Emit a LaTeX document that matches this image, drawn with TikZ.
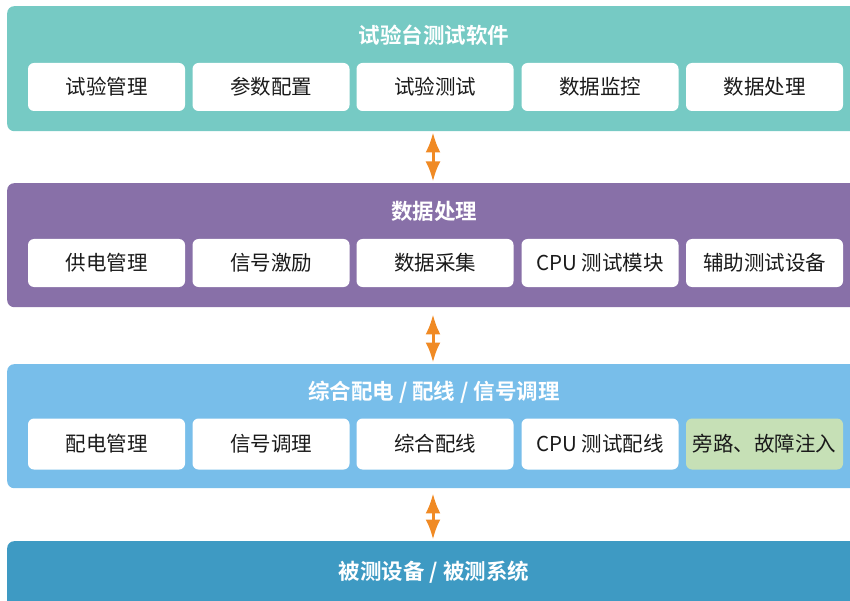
\documentclass[tikz,border=0pt]{standalone}
\usepackage{fontspec}
\setmainfont{Noto Sans CJK SC}
\newfontfamily\cjkb{Noto Sans CJK SC Bold}
\usetikzlibrary{arrows.meta}
\definecolor{cteal}{HTML}{76CAC4}
\definecolor{cpurple}{HTML}{8870A8}
\definecolor{clblue}{HTML}{78BEEA}
\definecolor{cdblue}{HTML}{3E9AC3}
\definecolor{cgreen}{HTML}{C6E0B6}
\definecolor{corange}{HTML}{F08A24}
\definecolor{ctext}{HTML}{1A1A1A}
\tikzset{
  panel/.style={rounded corners=7pt, inner sep=0pt, minimum width=863pt, anchor=north west},
  ptitle/.style={text=white, font=\cjkb\fontsize{21.5}{25}\selectfont, anchor=center, inner sep=0pt},
  item/.style={fill=white, rounded corners=6pt, minimum width=157pt, minimum height=48pt, inner sep=0pt, text=ctext, font=\fontsize{20.5}{24}\selectfont, anchor=center},
  arr/.style={draw=corange, line width=3pt, {Latex[length=20pt,width=15pt]}-{Latex[length=20pt,width=15pt]}, shorten <=1pt, shorten >=1.5pt}
}
\begin{document}
\begin{tikzpicture}[x=1pt,y=-1pt]
\useasboundingbox (0,0) rectangle (850,601);
\clip (0,0) rectangle (850,601);
% panels
\node[panel, fill=cteal, minimum height=125pt] (p1) at (7,6) {};
\node[panel, fill=cpurple, minimum height=124pt] (p2) at (7,183) {};
\node[panel, fill=clblue, minimum height=124pt] (p3) at (7,364) {};
\node[panel, fill=cdblue, minimum height=80pt] (p4) at (7,541) {};
% titles
\node[ptitle] (t1) at (434,35) {试验台测试软件};
\node[ptitle] (t2) at (434,211) {数据处理};
\node[ptitle] (t3) at (434,392) {综合配电 / 配线 / 信号调理};
\node[ptitle] (t4) at (434,572) {被测设备 / 被测系统};
% row 1
\node[item] (a1) at (106.5,87) {试验管理};
\node[item] (a2) at (271,87) {参数配置};
\node[item] (a3) at (435,87) {试验测试};
\node[item] (a4) at (600,87) {数据监控};
\node[item] (a5) at (764.5,87) {数据处理};
% row 2
\node[item] (b1) at (106.5,263) {供电管理};
\node[item] (b2) at (271,263) {信号激励};
\node[item] (b3) at (435,263) {数据采集};
\node[item] (b4) at (600,263) {CPU 测试模块};
\node[item] (b5) at (764.5,263) {辅助测试设备};
% row 3
\node[item, minimum height=51pt] (c1) at (106.5,444) {配电管理};
\node[item, minimum height=51pt] (c2) at (271,444) {信号调理};
\node[item, minimum height=51pt] (c3) at (435,444) {综合配线};
\node[item, minimum height=51pt] (c4) at (600,444) {CPU 测试配线};
\node[item, minimum height=51pt, fill=cgreen] (c5) at (764.5,444) {旁路、故障注入};
% arrows
\coordinate (ax) at (433,0);
\draw[arr] (p1.south -| ax) -- (p2.north -| ax);
\draw[arr] ([yshift=-6pt]p2.south -| ax) -- (p3.north -| ax);
\draw[arr] ([yshift=-4pt]p3.south -| ax) -- (p4.north -| ax);
\end{tikzpicture}
\end{document}
